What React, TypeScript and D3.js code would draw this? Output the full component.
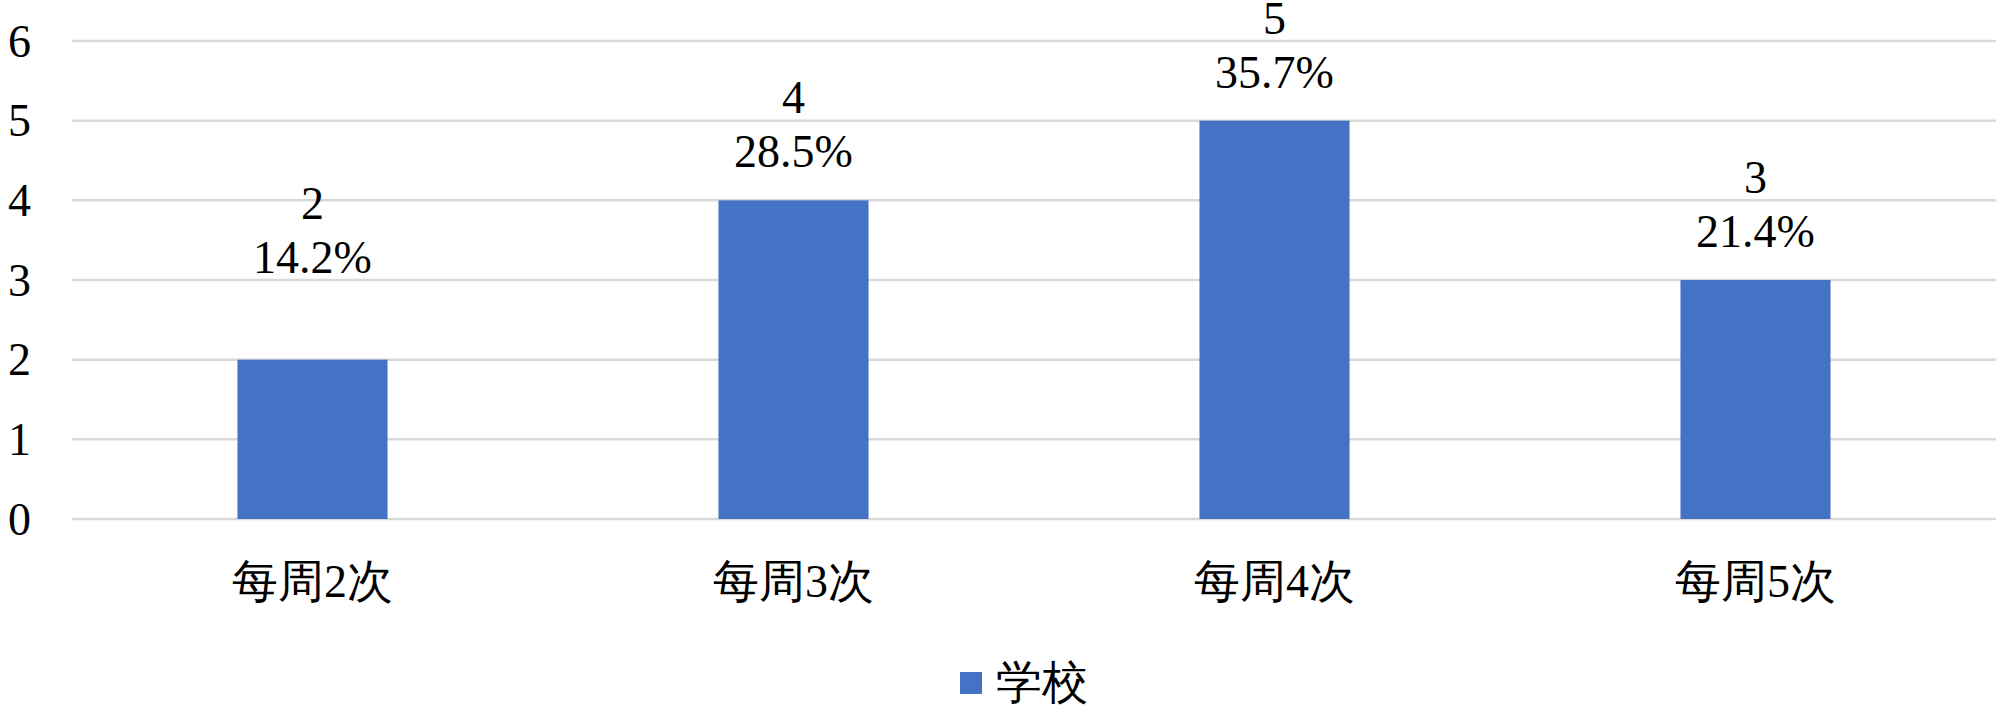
import React, { useEffect, useRef } from "react";
import * as d3 from "d3";

const categories = ["每周2次", "每周3次", "每周4次", "每周5次"];
const counts = [2, 4, 5, 3];
const percents = ["14.2%", "28.5%", "35.7%", "21.4%"];
const yTicks = [0, 1, 2, 3, 4, 5, 6];
const seriesName = "学校";

// first label was dragged higher in the original
const labelLift = [54, 0, 0, 0];

const W = 2000;
const H = 706;
const BLUE = "#4472C4";
const FONT = "Liberation Serif";

const App = () => {
  const svgRef = useRef<SVGSVGElement>(null);

  useEffect(() => {
    const margin = { top: 41, right: 4, bottom: 187, left: 72 };
    const width = W - margin.left - margin.right;
    const height = H - margin.top - margin.bottom;

    const svg = d3.select(svgRef.current);
    svg.selectAll("*").remove();

    const x = d3
      .scaleBand()
      .domain(categories)
      .range([0, width])
      .paddingInner(0.688)
      .paddingOuter(0.344);

    const y = d3.scaleLinear().domain([0, 6]).range([height, 0]);

    const g = svg
      .append("g")
      .attr("transform", `translate(${margin.left},${margin.top})`);

    const label = (sel: any) =>
      sel.style("font-family", FONT).style("font-size", "46px").attr("fill", "#000");

    // grid lines
    g.append("g")
      .selectAll("line")
      .data(yTicks)
      .enter()
      .append("line")
      .attr("x1", 0)
      .attr("x2", width)
      .attr("y1", (d) => y(d))
      .attr("y2", (d) => y(d))
      .attr("stroke", "#d9d9d9")
      .attr("stroke-width", 2.5);

    // y labels
    g.append("g")
      .selectAll("text")
      .data(yTicks)
      .enter()
      .append("text")
      .attr("x", -41)
      .attr("y", (d) => y(d))
      .attr("dy", "0.34em")
      .attr("text-anchor", "end")
      .call(label)
      .text((d) => d);

    // bars
    g.append("g")
      .selectAll("rect")
      .data(counts)
      .enter()
      .append("rect")
      .attr("x", (d, i) => x(categories[i])!)
      .attr("y", (d) => y(d))
      .attr("width", x.bandwidth())
      .attr("height", (d) => y(0) - y(d))
      .attr("fill", BLUE);

    // data labels: count on top, share below
    const cx = (i: number) => x(categories[i])! + x.bandwidth() / 2;
    const labels = g.append("g");

    labels
      .selectAll("text.count")
      .data(counts)
      .enter()
      .append("text")
      .attr("class", "count")
      .attr("x", (d, i) => cx(i))
      .attr("y", (d, i) => y(d) - 33 - labelLift[i] - 54)
      .attr("text-anchor", "middle")
      .call(label)
      .text((d) => d);

    labels
      .selectAll("text.pct")
      .data(counts)
      .enter()
      .append("text")
      .attr("class", "pct")
      .attr("x", (d, i) => cx(i))
      .attr("y", (d, i) => y(d) - 33 - labelLift[i])
      .attr("text-anchor", "middle")
      .call(label)
      .text((d, i) => percents[i]);

    // category labels
    g.append("g")
      .selectAll("text")
      .data(categories)
      .enter()
      .append("text")
      .attr("x", (d) => x(d)! + x.bandwidth() / 2)
      .attr("y", height + 78)
      .attr("text-anchor", "middle")
      .call(label)
      .text((d) => d);

    // legend
    const legend = svg.append("g").attr("transform", `translate(960,672)`);
    legend
      .append("rect")
      .attr("width", 22)
      .attr("height", 22)
      .attr("fill", BLUE);
    legend
      .append("text")
      .attr("x", 36)
      .attr("y", 26)
      .call(label)
      .text(seriesName);
  }, []);

  return (
    <svg
      ref={svgRef}
      width={W}
      height={H}
      style={{ position: "absolute", left: 0, top: 0, background: "#fff" }}
    ></svg>
  );
};

export default App;
